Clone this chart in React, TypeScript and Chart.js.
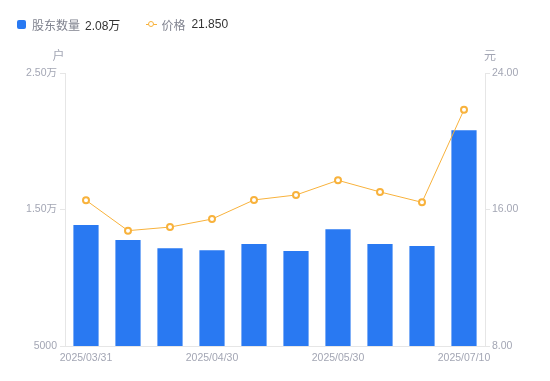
import React, { useEffect, useRef } from 'react';
import { Chart, registerables } from 'chart.js';
Chart.register(...registerables);

const categories = ['2025/03/31', '2025/04/10', '2025/04/18', '2025/04/30', '2025/05/09', '2025/05/20', '2025/05/30', '2025/06/10', '2025/06/20', '2025/07/10'];
const holders = [13860, 12770, 12160, 12010, 12470, 11960, 13550, 12470, 12330, 20800];
const prices = [16.54, 14.76, 14.97, 15.44, 16.56, 16.85, 17.71, 17.03, 16.42, 21.85];
const leftTicks = [5000, 15000, 25000];
const rightTicks = [8, 16, 24];
const legendItems = [
  { name: '股东数量', value: '2.08万' },
  { name: '价格', value: '21.850' },
];

const FONT = '"Liberation Sans", "Noto Sans CJK SC", Arial, sans-serif';
const BAR = '#2979F2';
const LINE = '#F8B23C';
const TICK = '#A3A6B4';
const AXIS = '#E6E6E6';

const fmtLeft = (v: number) => (v >= 10000 ? (v / 10000).toFixed(2) + '万' : String(v));

const titlePlugin = {
  id: 'axisTitles',
  afterDraw(chart: any) {
    const ctx = chart.ctx;
    const yl = chart.scales.y;
    const yr = chart.scales.y1;
    const top = chart.chartArea.top;
    ctx.save();
    ctx.font = `12px ${FONT}`;
    ctx.fillStyle = TICK;
    ctx.textAlign = 'center';
    ctx.textBaseline = 'middle';
    ctx.fillText('户', yl.right - 6.5, top - 16);
    ctx.fillText('元', yr.left + 5, top - 16);
    ctx.restore();
  },
};

export default function App() {
  const ref = useRef<HTMLCanvasElement>(null);
  useEffect(() => {
    if (!ref.current) return;
    const chart = new Chart(ref.current, {
      type: 'bar',
      data: {
        labels: categories,
        datasets: [
          {
            type: 'line',
            label: '价格',
            data: prices,
            yAxisID: 'y1',
            borderColor: LINE,
            borderWidth: 1,
            backgroundColor: '#ffffff',
            pointBackgroundColor: '#ffffff',
            pointBorderColor: LINE,
            pointBorderWidth: 2,
            pointRadius: 3,
            tension: 0,
            order: 0,
          } as any,
          {
            type: 'bar',
            label: '股东数量',
            data: holders,
            yAxisID: 'y',
            backgroundColor: BAR,
            categoryPercentage: 1,
            barPercentage: 0.6,
            order: 1,
          },
        ],
      },
      options: {
        animation: false,
        responsive: false,
        maintainAspectRatio: false,
        layout: { padding: { top: 73, left: 0, right: 0, bottom: 0 } },
        plugins: { legend: { display: false }, tooltip: { enabled: false } },
        scales: {
          x: {
            offset: true,
            grid: { display: false, drawTicks: false },
            border: { display: true, color: AXIS },
            ticks: {
              autoSkip: false,
              maxRotation: 0,
              padding: 6,
              color: TICK,
              font: { family: FONT, size: 10.5 },
              callback: (_v: any, i: number) => (i % 3 === 0 ? categories[i] : ''),
            },
            afterFit: (s: any) => { s.height = 35; },
          },
          y: {
            position: 'left',
            min: 5000,
            max: 25000,
            grid: { drawOnChartArea: false, drawTicks: true, tickLength: 5, color: AXIS },
            border: { display: true, color: AXIS },
            ticks: {
              padding: 3,
              color: TICK,
              font: { family: FONT, size: 10.5 },
              callback: (v: any) => fmtLeft(Number(v)),
            },
            afterBuildTicks: (s: any) => { s.ticks = leftTicks.map((v) => ({ value: v })); },
            afterFit: (s: any) => { s.width = 65; },
          },
          y1: {
            position: 'right',
            min: 8,
            max: 24,
            grid: { drawOnChartArea: false, drawTicks: true, tickLength: 5, color: AXIS },
            border: { display: true, color: AXIS },
            ticks: {
              padding: 2,
              color: TICK,
              font: { family: FONT, size: 10.5 },
              callback: (v: any) => Number(v).toFixed(2),
            },
            afterBuildTicks: (s: any) => { s.ticks = rightTicks.map((v) => ({ value: v })); },
            afterFit: (s: any) => { s.width = 65; },
          },
        },
      },
      plugins: [titlePlugin],
    });
    return () => chart.destroy();
  }, []);

  return (
    <div style={{ position: 'fixed', left: 0, top: 0, width: 550, height: 381, background: '#fff', fontFamily: FONT }}>
      <canvas ref={ref} width={550} height={381} style={{ position: 'absolute', left: 0, top: 0, width: 550, height: 381 }} />
      <div style={{ position: 'absolute', left: 17, top: 15, height: 18, display: 'flex', alignItems: 'center', fontSize: 12 }}>
        <span style={{ display: 'inline-block', width: 9, height: 9, borderRadius: 2, background: BAR, marginRight: 6 }} />
        <span style={{ color: '#80838F' }}>{legendItems[0].name}</span>
        <span style={{ color: '#333', marginLeft: 5 }}>{legendItems[0].value}</span>
        <span style={{ position: 'relative', display: 'inline-block', width: 11, height: 9, marginLeft: 26, marginRight: 4 }}>
          <span style={{ position: 'absolute', left: 0, top: 4, width: 11, height: 1, background: LINE }} />
          <span style={{ position: 'absolute', left: 2, top: 1, width: 4, height: 4, borderRadius: '50%', border: `1.5px solid ${LINE}`, background: '#fff' }} />
        </span>
        <span style={{ color: '#80838F' }}>{legendItems[1].name}</span>
        <span style={{ color: '#333', marginLeft: 6 }}>{legendItems[1].value}</span>
      </div>
    </div>
  );
}
